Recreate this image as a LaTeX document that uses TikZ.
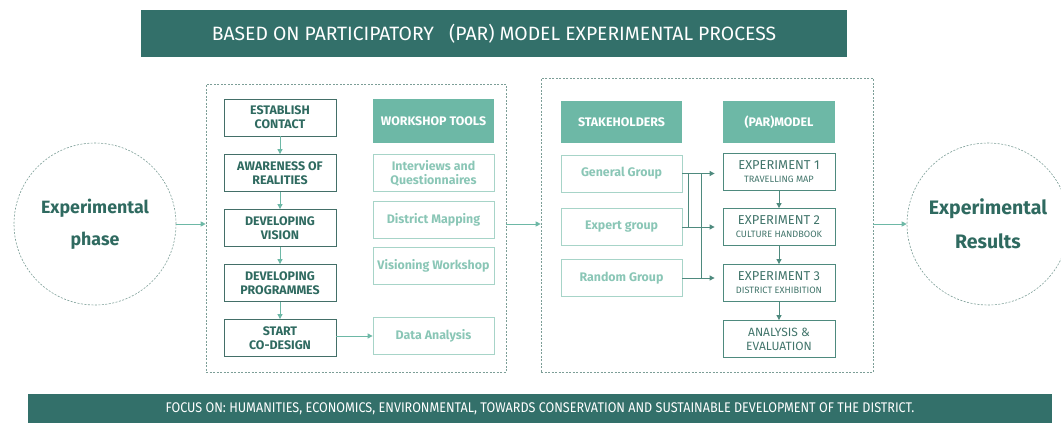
\documentclass[tikz,border=0pt]{standalone}
\usepackage{fontspec}
\setmainfont{Fira Sans}
\newfontfamily\narrowfont[FakeStretch=0.9]{Fira Sans}
\usetikzlibrary{arrows.meta, calc}
\definecolor{cDeep}{HTML}{33706A}
\definecolor{cMint}{HTML}{6DB8A6}
\definecolor{cStep}{HTML}{2F6A60}
\definecolor{cPale}{HTML}{8AC6B6}
\definecolor{cFlow}{HTML}{4E8A7E}
\definecolor{cDash}{HTML}{7C9E97}
\newcommand{\expsub}[1]{{\fontsize{9.2}{10}\selectfont #1}}
\tikzset{
    x=1pt, y=-1pt, font=\fontsize{12.4}{14}\selectfont,
    bar/.style={fill=cDeep, text=white, inner sep=0pt},
    head/.style={fill=cMint, text=white, inner sep=0pt, minimum width=121pt,
                 minimum height=43pt, font=\fontsize{12.4}{14}\selectfont\bfseries},
    stepbox/.style={draw=cStep!75!gray, line width=0.8pt, text=cStep, align=center,
                    inner sep=0pt, minimum width=112pt, minimum height=37pt,
                    font=\fontsize{12.4}{14}\selectfont\bfseries},
    tool/.style={draw=cPale!75, line width=0.8pt, text=cPale, align=center,
                 inner sep=0pt, minimum width=121pt, minimum height=37pt,
                 font=\fontsize{12.4}{14}\selectfont\bfseries},
    expbox/.style={draw=cFlow, line width=0.8pt, text=cFlow!85!black, align=center,
                   inner sep=0pt, minimum width=112pt, minimum height=37pt,
                   font=\fontsize{12.9}{15}\selectfont},
    frame/.style={draw=cDash, dash pattern=on 2pt off 1.5pt, line width=0.6pt,
                  inner sep=0pt},
    phase/.style={circle, draw=cDash, dash pattern=on 2pt off 1.5pt, line width=0.6pt,
                  inner sep=0pt, minimum size=162pt, text=cStep, align=center},
    link/.style={-{Triangle[length=5pt, width=5pt]}, line width=0.9pt, cMint},
    feed/.style={-{Triangle[length=5pt, width=5pt]}, line width=0.9pt, cFlow},
}

\begin{document}
\begin{tikzpicture}
    \useasboundingbox (0,0) rectangle (1061,423);
    \clip (0,0) rectangle (1061,423);

    % bars
    \node[bar, minimum width=706pt, minimum height=47pt] (title) at (494,33.5)
        {\fontsize{19.3}{21}\selectfont BASED ON PARTICIPATORY\ \ \ (PAR) MODEL EXPERIMENTAL PROCESS};
    \node[bar, minimum width=1024pt, minimum height=29pt] (focus) at (540,408.5)
        {\narrowfont\fontsize{14}{15}\selectfont FOCUS ON: HUMANITIES, ECONOMICS, ENVIRONMENTAL, TOWARDS CONSERVATION AND SUSTAINABLE DEVELOPMENT OF THE DISTRICT.};

    \node[phase, font=\fontsize{17.8}{32}\selectfont\bfseries] (start) at (95,224)
        {Experimental\\phase};
    \node[phase, font=\fontsize{19.5}{34}\selectfont\bfseries] (results) at (988,224)
        {Experimental\\Results};

    \node[frame, minimum width=300pt, minimum height=288pt] (stages) at (356,228) {};
    \node[frame, minimum width=332pt, minimum height=294pt] (actors) at (707,225) {};

    % workshop stages and tools
    \node[stepbox] (contact) at (280,117.5) {ESTABLISH\\CONTACT};
    \node[stepbox] (aware)   at (280,173)   {AWARENESS OF\\REALITIES};
    \node[stepbox] (vision)  at (280,228)   {DEVELOPING\\VISION};
    \node[stepbox] (prog)    at (280,283)   {DEVELOPING\\PROGRAMMES};
    \node[stepbox] (codes)   at (280,338)   {START\\CO-DESIGN};

    \node[head, minimum height=44pt] (tools) at (433.5,121) {WORKSHOP TOOLS};
    \node[tool] (interv)  at (433.5,173)   {Interviews and\\Questionnaires};
    \node[tool] (mapping) at (433.5,219.5) {District Mapping};
    \node[tool] (visws)   at (433.5,266)   {Visioning Workshop};
    \node[tool] (data)    at (433.5,336)   {Data Analysis};

    \foreach \a/\b in {contact/aware, aware/vision, vision/prog, prog/codes}
        \draw[link] (\a) -- (\b);
    \draw[link] (codes.east |- data) -- (data.west);

    % groups and experiments
    \node[head, minimum height=42pt] (stake) at (621.5,122) {STAKEHOLDERS};
    \node[tool] (general) at (621.5,173.5) {General Group};
    \node[tool] (expert)  at (621.5,227)   {Expert group};
    \node[tool] (random)  at (621.5,278)   {Random Group};

    \node[head, minimum width=112pt, minimum height=42pt] (par) at (779,122) {(PAR)MODEL};
    \node[expbox] (exp1) at (779,171.5) {EXPERIMENT 1\\[-2pt]\expsub{TRAVELLING MAP}};
    \node[expbox] (exp2) at (779,227)   {EXPERIMENT 2\\[-2pt]\expsub{CULTURE HANDBOOK}};
    \node[expbox] (exp3) at (779,283)   {EXPERIMENT 3\\[-2pt]\expsub{DISTRICT EXHIBITION}};
    \node[expbox, font=\fontsize{12}{14}\selectfont] (eval) at (779,339)
        {ANALYSIS \&\\EVALUATION};

    \draw[feed, shorten >=8pt] (general.east) -- (general.east -| exp1.west);
    \draw[feed, shorten >=8pt] (expert.east) -- (expert.east -| exp2.west);
    \draw[feed, shorten >=8pt] (random.east) -- (random.east -| exp3.west);
    \draw[cFlow, line width=0.9pt] ($(general.east)+(6,0)$) -- ($(expert.east)+(6,0)$);
    \draw[cFlow, line width=0.9pt] ($(general.east)+(19,0)$) -- ($(random.east)+(19,0)$);
    \foreach \a/\b in {exp1/exp2, exp2/exp3, exp3/eval}
        \draw[feed] (\a) -- (\b);

    % phase to phase
    \draw[link] (start.east) -- (start.east -| stages.west);
    \draw[link] (stages.east |- start) -- (actors.west |- start);
    \draw[link] (actors.east |- start) -- (results.west);
\end{tikzpicture}
\end{document}
